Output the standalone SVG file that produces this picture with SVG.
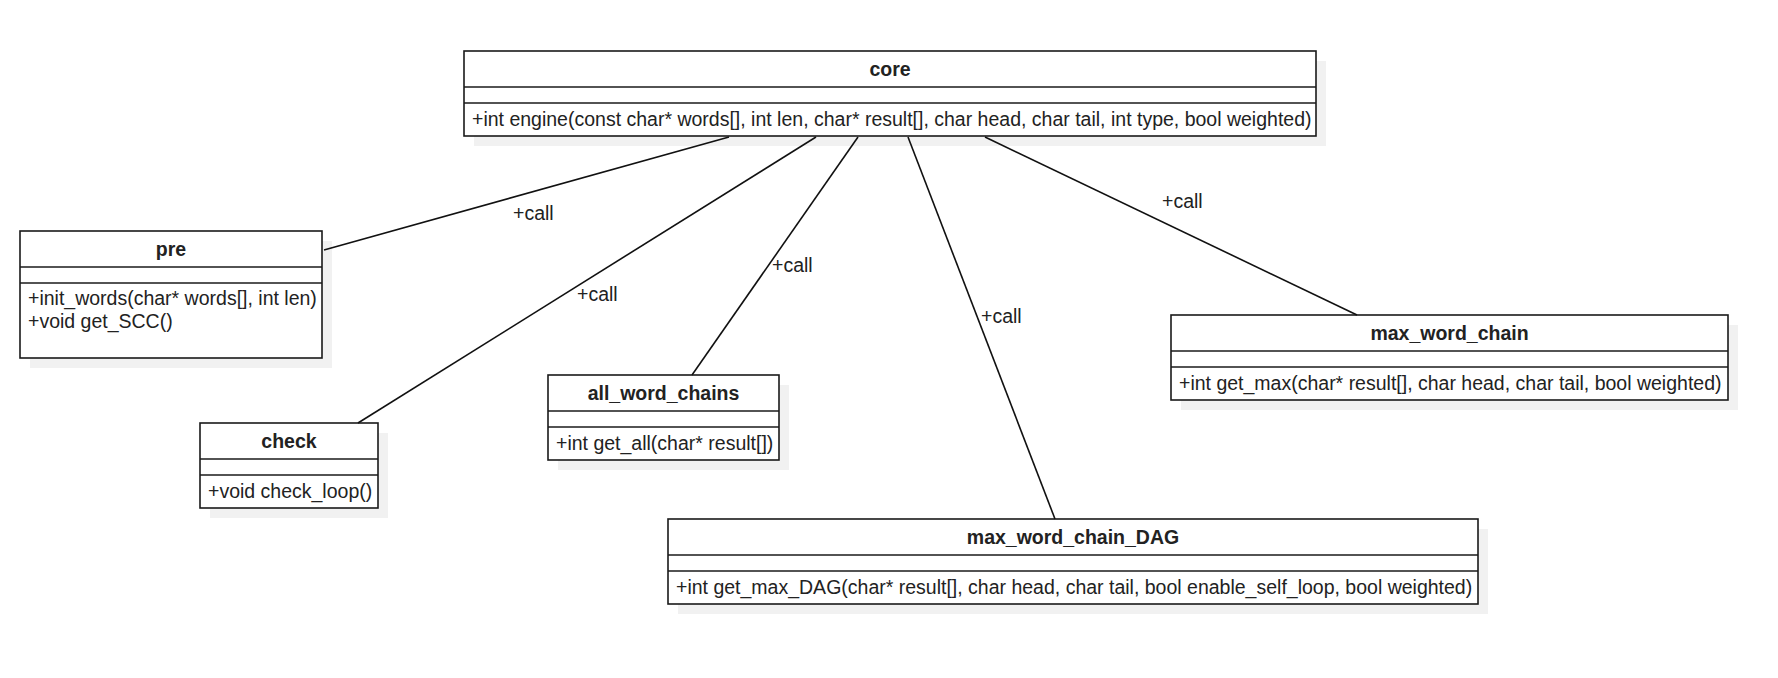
<svg xmlns="http://www.w3.org/2000/svg" width="1778" height="678" viewBox="0 0 1778 678">
<style>
.sh{fill:#f1f1f1;stroke:none}
.box{fill:#ffffff;stroke:#1a1a1a;stroke-width:1.6}
.div{stroke:#1a1a1a;stroke-width:1.6}
.t{font-family:"Liberation Sans",Arial,sans-serif;font-size:19.5px;fill:#222222}
.h{font-weight:bold;text-anchor:middle}
.edge{stroke:#111111;stroke-width:1.6;fill:none}
</style>
<rect width="1778" height="678" fill="#ffffff"/>
<g id="core">
<rect class="sh" x="474" y="61" width="852" height="85"/>
<rect class="box" x="464" y="51" width="852" height="85"/>
<line class="div" x1="464" y1="87" x2="1316" y2="87"/>
<line class="div" x1="464" y1="103" x2="1316" y2="103"/>
<text class="t h" x="890" y="76">core</text>
<text class="t" x="472" y="126">+int engine(const char* words[], int len, char* result[], char head, char tail, int type, bool weighted)</text>
</g>
<g id="pre">
<rect class="sh" x="30" y="241" width="302" height="127"/>
<rect class="box" x="20" y="231" width="302" height="127"/>
<line class="div" x1="20" y1="267" x2="322" y2="267"/>
<line class="div" x1="20" y1="283" x2="322" y2="283"/>
<text class="t h" x="171" y="256">pre</text>
<text class="t" x="28" y="305">+init_words(char* words[], int len)</text>
<text class="t" x="28" y="328">+void get_SCC()</text>
</g>
<g id="check">
<rect class="sh" x="210" y="433" width="178" height="85"/>
<rect class="box" x="200" y="423" width="178" height="85"/>
<line class="div" x1="200" y1="459" x2="378" y2="459"/>
<line class="div" x1="200" y1="475" x2="378" y2="475"/>
<text class="t h" x="289" y="448">check</text>
<text class="t" x="208" y="498">+void check_loop()</text>
</g>
<g id="all_word_chains">
<rect class="sh" x="558" y="385" width="231" height="85"/>
<rect class="box" x="548" y="375" width="231" height="85"/>
<line class="div" x1="548" y1="411" x2="779" y2="411"/>
<line class="div" x1="548" y1="427" x2="779" y2="427"/>
<text class="t h" x="663.5" y="400">all_word_chains</text>
<text class="t" x="556" y="450">+int get_all(char* result[])</text>
</g>
<g id="max_word_chain">
<rect class="sh" x="1181" y="325" width="557" height="85"/>
<rect class="box" x="1171" y="315" width="557" height="85"/>
<line class="div" x1="1171" y1="351" x2="1728" y2="351"/>
<line class="div" x1="1171" y1="367" x2="1728" y2="367"/>
<text class="t h" x="1449.5" y="340">max_word_chain</text>
<text class="t" x="1179" y="390">+int get_max(char* result[], char head, char tail, bool weighted)</text>
</g>
<g id="max_word_chain_DAG">
<rect class="sh" x="678" y="529" width="810" height="85"/>
<rect class="box" x="668" y="519" width="810" height="85"/>
<line class="div" x1="668" y1="555" x2="1478" y2="555"/>
<line class="div" x1="668" y1="571" x2="1478" y2="571"/>
<text class="t h" x="1073" y="544">max_word_chain_DAG</text>
<text class="t" x="676" y="594">+int get_max_DAG(char* result[], char head, char tail, bool enable_self_loop, bool weighted)</text>
</g>
<g id="connectors">
<line class="edge" x1="729" y1="137" x2="324" y2="250"/>
<line class="edge" x1="816" y1="137" x2="358" y2="423"/>
<line class="edge" x1="858" y1="137" x2="692" y2="375"/>
<line class="edge" x1="908" y1="137" x2="1055" y2="519"/>
<line class="edge" x1="985" y1="137" x2="1357" y2="315"/>
<text class="t" x="513" y="220">+call</text>
<text class="t" x="577" y="301">+call</text>
<text class="t" x="772" y="272">+call</text>
<text class="t" x="981" y="323">+call</text>
<text class="t" x="1162" y="208">+call</text>
</g>
</svg>
